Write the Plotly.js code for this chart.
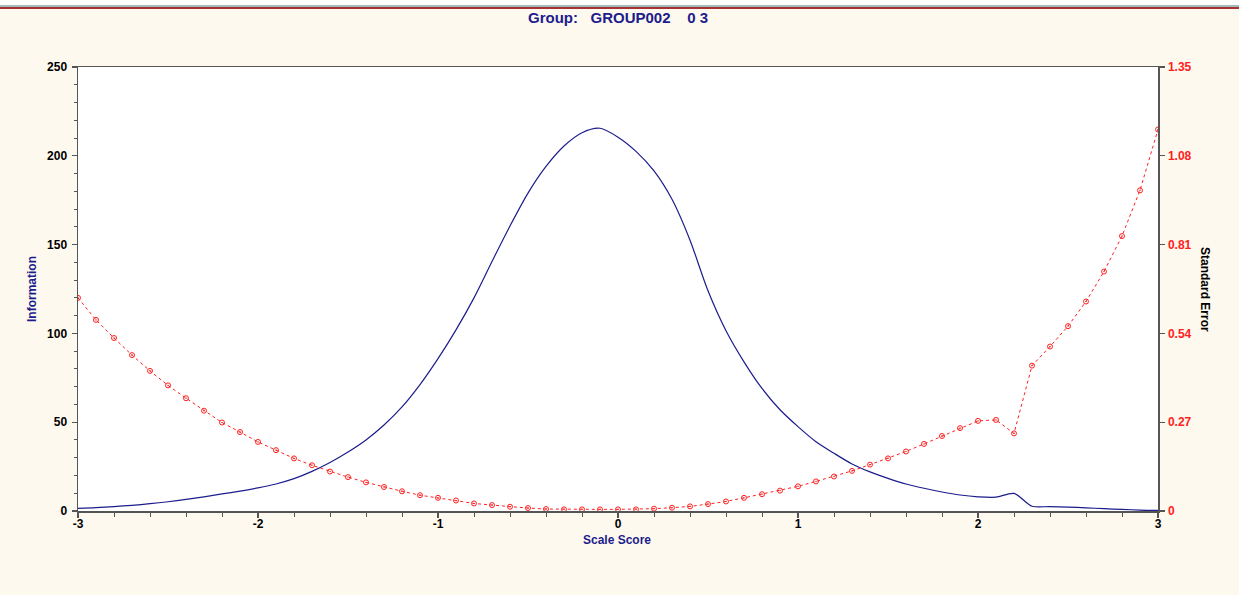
<!DOCTYPE html>
<html>
<head>
<meta charset="utf-8">
<script src="https://cdn.plot.ly/plotly-3.0.1.min.js"></script>
<style>html,body{margin:0;padding:0;background:#fff;}#chart{width:1239px;height:595px;}</style>
</head>
<body>
<div id="chart"></div>
<script>
// Scale scores (theta), step 0.1 from -3 to 3
const scaleScore = [-3.0,-2.9,-2.8,-2.7,-2.6,-2.5,-2.4,-2.3,-2.2,-2.1,-2.0,-1.9,-1.8,-1.7,-1.6,-1.5,-1.4,-1.3,-1.2,-1.1,-1.0,-0.9,-0.8,-0.7,-0.6,-0.5,-0.4,-0.3,-0.2,-0.1,0.0,0.1,0.2,0.3,0.4,0.5,0.6,0.7,0.8,0.9,1.0,1.1,1.2,1.3,1.4,1.5,1.6,1.7,1.8,1.9,2.0,2.1,2.2,2.3,2.4,2.5,2.6,2.7,2.8,2.9,3.0];

// Test information (left axis)
const information = [1.5,1.9,2.5,3.2,4.1,5.2,6.5,8.0,9.6,11.2,13.0,15.2,18.2,22.3,27.3,33.2,40.0,48.4,58.6,71.2,85.8,102.0,120.0,140.5,160.5,179.0,194.0,205.5,213.0,215.5,210.5,202.5,191.5,175.5,152.5,124.0,101.5,84.0,69.0,57.0,47.5,39.0,32.5,26.5,22.0,18.4,15.2,12.8,10.7,9.0,8.0,7.8,9.9,2.7,2.5,2.2,1.8,1.3,0.9,0.5,0.3];

// Standard error (right axis)
const standardError = [0.648,0.581,0.526,0.474,0.426,0.382,0.343,0.305,0.269,0.240,0.210,0.185,0.160,0.139,0.120,0.103,0.087,0.073,0.060,0.048,0.040,0.032,0.023,0.018,0.013,0.009,0.006,0.005,0.005,0.005,0.005,0.005,0.007,0.010,0.014,0.021,0.029,0.040,0.051,0.062,0.075,0.090,0.105,0.122,0.141,0.160,0.181,0.204,0.228,0.252,0.274,0.277,0.236,0.442,0.500,0.562,0.637,0.728,0.836,0.975,1.160];

// Tick labels
const leftTicks = [0,50,100,150,200,250];
const rightTicks = [0,0.27,0.54,0.81,1.08,1.35];
const rightTickText = ['0','0.27','0.54','0.81','1.08','1.35'];
const xTicks = [-3,-2,-1,0,1,2,3];

const FONT = 'Arial, "Liberation Sans", sans-serif';
const NAVY = '#1c1c8c';
const AXIS = '#555555';

// paper coords helpers (plot area: x 78..1158, y 67..511)
const px = p => (p - 78) / 1080;
const py = p => (511 - p) / 444;

const traces = [
  {
    x: scaleScore, y: information, type: 'scatter', mode: 'lines',
    line: {color: NAVY, width: 1.2, shape: 'spline', smoothing: 0.8},
    yaxis: 'y', hoverinfo: 'x+y', showlegend: false
  },
  {
    x: scaleScore, y: standardError, type: 'scatter', mode: 'lines+markers',
    line: {color: '#ff2020', width: 1, dash: '3px,3px'},
    marker: {symbol: 'circle-open-dot', size: 5, color: '#ff2020', line: {width: 1, color: '#ff2020'}},
    yaxis: 'y2', hoverinfo: 'x+y', showlegend: false
  }
];

const layout = {
  width: 1239, height: 595,
  margin: {l: 78, r: 81, t: 67, b: 84, pad: 0},
  paper_bgcolor: '#fef9ee',
  plot_bgcolor: '#ffffff',
  font: {family: FONT, size: 12, color: '#000'},
  title: {
    text: 'Group:\u00a0\u00a0 GROUP002\u00a0\u00a0\u00a0 0 3',
    font: {family: FONT, size: 15, color: NAVY, weight: 'bold'},
    x: 0.5, xanchor: 'center', xref: 'paper',
    y: 1 - 18 / 595, yanchor: 'middle', yref: 'container'
  },
  xaxis: {
    range: [-3, 3], tickvals: xTicks, ticktext: xTicks.map(String),
    showgrid: false, zeroline: false,
    showline: true, linecolor: AXIS, linewidth: 1.5, mirror: true,
    ticks: 'outside', ticklen: 5, tickwidth: 1.2, tickcolor: AXIS,
    minor: {dtick: 0.2, ticks: 'outside', ticklen: 4, tickwidth: 1, tickcolor: AXIS, showgrid: false},
    tickfont: {family: FONT, size: 12, color: '#000', weight: 'bold'},
    ticklabelstandoff: -4,
    fixedrange: true
  },
  yaxis: {
    range: [0, 250], tickvals: leftTicks,
    showgrid: false, zeroline: false,
    showline: true, linecolor: AXIS, linewidth: 1.5, mirror: true,
    ticks: 'outside', ticklen: 5, tickwidth: 1.2, tickcolor: AXIS,
    minor: {dtick: 10, ticks: 'outside', ticklen: 3, tickwidth: 1, tickcolor: AXIS, showgrid: false},
    tickfont: {family: FONT, size: 12, color: '#000', weight: 'bold'},
    ticklabelstandoff: 2,
    fixedrange: true
  },
  yaxis2: {
    range: [0, 1.35], tickvals: rightTicks, ticktext: rightTickText,
    overlaying: 'y', side: 'right',
    showgrid: false, zeroline: false,
    showline: true, linecolor: AXIS, linewidth: 1.5,
    ticks: 'outside', ticklen: 5, tickwidth: 1.2, tickcolor: AXIS,
    tickfont: {family: FONT, size: 12, color: '#ff2020', weight: 'bold'},
    ticklabelstandoff: 1,
    fixedrange: true
  },
  annotations: [
    {text: 'Information', xref: 'paper', yref: 'paper', x: px(32), y: py(289),
     xanchor: 'center', yanchor: 'middle', textangle: -90, showarrow: false,
     font: {family: FONT, size: 12, color: NAVY, weight: 'bold'}},
    {text: 'Scale Score', xref: 'paper', yref: 'paper', x: px(617), y: py(540),
     xanchor: 'center', yanchor: 'middle', showarrow: false,
     font: {family: FONT, size: 12, color: NAVY, weight: 'bold'}},
    {text: 'Standard Error', xref: 'paper', yref: 'paper', x: px(1205), y: py(289),
     xanchor: 'center', yanchor: 'middle', textangle: 90, showarrow: false,
     font: {family: FONT, size: 12, color: '#000', weight: 'bold'}}
  ],
  shapes: [
    {type: 'rect', xref: 'paper', yref: 'paper', x0: px(0), x1: px(1239), y0: py(0), y1: py(5),
     fillcolor: '#ffffff', line: {width: 0}, layer: 'below'},
    {type: 'line', xref: 'paper', yref: 'paper', x0: px(0), x1: px(1239), y0: py(6), y1: py(6),
     line: {color: '#7fa9a9', width: 1.5}},
    {type: 'line', xref: 'paper', yref: 'paper', x0: px(0), x1: px(1239), y0: py(8), y1: py(8),
     line: {color: '#a83232', width: 1.8}}
  ],
  showlegend: false
};

Plotly.newPlot('chart', traces, layout, {displayModeBar: false, staticPlot: true});
</script>
</body>
</html>
